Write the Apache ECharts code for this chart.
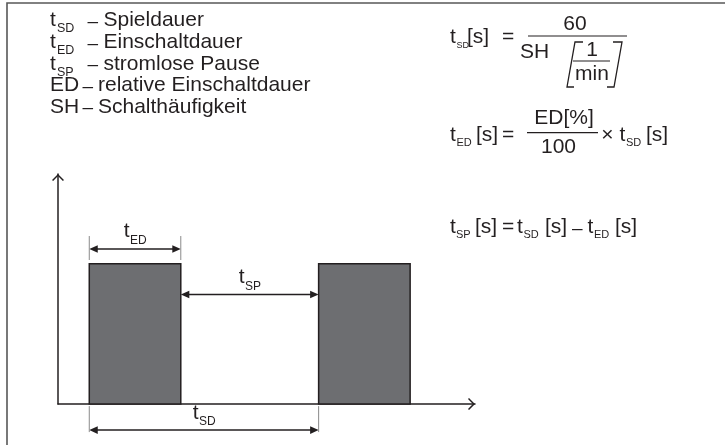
<!DOCTYPE html>
<html><head><meta charset="utf-8">
<script src="https://cdn.jsdelivr.net/npm/echarts@6/dist/echarts.min.js"></script>
<style>html,body{margin:0;padding:0;background:#fff}#c{width:725px;height:445px}</style>
</head><body><div id="c"></div>
<script>
// ---- data ----
const pulseStarts = [1.35, 11.25];
const pulseEnds = [5.3, 15.2];
const pulseLevel = [1, 1];
const dimNames = ['ED', 'SP', 'SD'];
const dimFrom = [1.35, 5.3, 1.35];
const dimTo = [5.3, 11.25, 11.25];
const legendSymbols = ['t', 't', 't', 'ED', 'SH'];
const legendSubs = ['SD', 'ED', 'SP', '', ''];
const legendTexts = ['Spieldauer', 'Einschaltdauer', 'stromlose Pause', 'relative Einschaltdauer', 'Schalthäufigkeit'];

// ---- styling / layout ----
const FONT = '"Liberation Sans", Arial, Helvetica, sans-serif';
const INK = '#231f20';
const mctx = document.createElement('canvas').getContext('2d');
function tw(text, size) { mctx.font = size + 'px ' + FONT; return mctx.measureText(text).width; }
function txt(text, x, base, size, align) {
  return { type: 'text', x: x, y: base - 0.35 * size, silent: true, z: 10,
    style: { text: text, fontSize: size, fontFamily: FONT, fill: INK, align: align || 'left', verticalAlign: 'middle' } };
}
function seg(pts, w, color) {
  return { type: 'polyline', silent: true, z: 10, shape: { points: pts }, style: { stroke: color || INK, lineWidth: w || 1.5, fill: null } };
}

const dimLayout = {
  ED: { level: 1.105, ext: [-13, 11] },
  SP: { level: 0.781, ext: null },
  SD: { level: -0.186, ext: [-24, 2] }
};

const graphics = [];
// frame
graphics.push(seg([[7, 445], [7, 3], [725, 3]], 1.6, '#585858'));
// legend
const LB = [28, 50, 71.5, 93, 114.5];
const LS = 21;
legendSymbols.forEach(function (s, i) {
  const b = LB[i];
  graphics.push(txt(s, 50, b, LS));
  if (legendSubs[i]) {
    graphics.push(txt(legendSubs[i], 50 + tw(s, LS) + 1.2, b + 5, 12.5));
    graphics.push(txt('–', 87.5, b, 19));
    graphics.push(txt(legendTexts[i], 103.5, b, LS));
  } else {
    graphics.push(txt('–', 82.5, b, 19));
    graphics.push(txt(legendTexts[i], 98, b, LS));
  }
});
// formula 1
const FS = 21, SS = 11;
graphics.push(txt('t', 450, 45, FS), txt('SD', 456.5, 48.5, 9), txt('[s]', 467, 45, FS), txt('=', 502, 45, FS));
graphics.push(seg([[528, 36], [627, 36]], 1.2));
graphics.push(txt('60', 575, 32, FS, 'center'), txt('SH', 520, 60, FS));
graphics.push(seg([[583, 42], [575, 42], [567, 87], [574, 87]], 1.3));
graphics.push(seg([[613, 42], [622, 42], [614, 87], [607, 87]], 1.3));
graphics.push(seg([[573, 61], [610, 61]], 1.2));
graphics.push(txt('1', 592, 58, FS, 'center'), txt('min', 592, 81.5, FS, 'center'));
// formula 2
graphics.push(txt('t', 450, 143, FS), txt('ED', 456.5, 147, SS), txt('[s]', 476, 143, FS), txt('=', 502, 143, FS));
graphics.push(seg([[527, 132.7], [598, 132.7]], 1.2));
graphics.push(txt('ED[%]', 564, 126, FS, 'center'), txt('100', 558.5, 155, FS, 'center'));
graphics.push(txt('×', 607.5, 142.5, FS, 'center'), txt('t', 619.5, 143, FS), txt('SD', 626, 147, SS), txt('[s]', 646, 143, FS));
// formula 3
graphics.push(txt('t', 450, 235, FS), txt('SP', 456, 239, SS), txt('[s]', 475, 235, FS), txt('=', 502, 235, FS));
graphics.push(txt('t', 517, 235, FS), txt('SD', 523.5, 239, SS), txt('[s]', 545, 235, FS), txt('–', 572, 235, 19));
graphics.push(txt('t', 587.5, 235, FS), txt('ED', 594, 239, SS), txt('[s]', 615, 235, FS));

const CHEV = 'path://M0,6 L6,0 L12,6 L10.9,7 L6,2.1 L1.1,7 Z';
function axisBase(min, max) {
  return {
    type: 'value', min: min, max: max,
    axisLine: { show: true, onZero: true, symbol: ['none', CHEV], symbolSize: [12, 7], symbolOffset: [0, -3.5],
      lineStyle: { color: INK, width: 1.5 } },
    axisTick: { show: false }, axisLabel: { show: false }, splitLine: { show: false }
  };
}

const option = {
  animation: false,
  backgroundColor: '#fff',
  grid: { left: 58, top: 174, width: 417, height: 230 },
  xAxis: axisBase(0, 18),
  yAxis: axisBase(0, 1.64),
  graphic: graphics,
  series: [
    {
      type: 'custom', clip: false, z: 3,
      encode: { x: [0, 1], y: 2 },
      data: pulseStarts.map(function (s, i) { return [s, pulseEnds[i], pulseLevel[i]]; }),
      renderItem: function (params, api) {
        const p0 = api.coord([api.value(0), api.value(2)]);
        const p1 = api.coord([api.value(1), 0]);
        return { type: 'rect', shape: { x: p0[0], y: p0[1], width: p1[0] - p0[0], height: p1[1] - p0[1] },
          style: { fill: '#6d6e71', stroke: INK, lineWidth: 1.5 } };
      }
    },
    {
      type: 'custom', clip: false, z: 4,
      encode: { x: [0, 1] },
      data: dimNames.map(function (n, i) { return [dimFrom[i], dimTo[i]]; }),
      renderItem: function (params, api) {
        const name = dimNames[params.dataIndex];
        const L = dimLayout[name];
        const p1 = api.coord([api.value(0), L.level]);
        const p2 = api.coord([api.value(1), L.level]);
        const y = p1[1], x1 = p1[0], x2 = p2[0];
        const ah = 8.5, aw = 3.8;
        const ch = [
          { type: 'line', shape: { x1: x1 + ah - 1, y1: y, x2: x2 - ah + 1, y2: y }, style: { stroke: INK, lineWidth: 1.5 } },
          { type: 'polygon', shape: { points: [[x1, y], [x1 + ah, y - aw], [x1 + ah, y + aw]] }, style: { fill: INK } },
          { type: 'polygon', shape: { points: [[x2, y], [x2 - ah, y - aw], [x2 - ah, y + aw]] }, style: { fill: INK } }
        ];
        if (L.ext) {
          [x1, x2].forEach(function (x) {
            ch.push({ type: 'line', shape: { x1: x, y1: y + L.ext[0], x2: x, y2: y + L.ext[1] }, style: { stroke: '#8a8a8a', lineWidth: 1 } });
          });
        }
        const ms = 21, ss = 12;
        const w = tw('t', ms) + tw(name, ss);
        const lx = (x1 + x2) / 2 - w / 2;
        const base = y - 10;
        ch.push({ type: 'text', x: lx, y: base - 0.35 * ms, style: { text: 't', fontSize: ms, fontFamily: FONT, fill: INK, verticalAlign: 'middle' } });
        ch.push({ type: 'text', x: lx + tw('t', ms) + 0.5, y: base + 6 - 0.35 * ss, style: { text: name, fontSize: ss, fontFamily: FONT, fill: INK, verticalAlign: 'middle' } });
        return { type: 'group', children: ch };
      }
    }
  ]
};
const chart = echarts.init(document.getElementById('c'), null, { renderer: 'canvas' });
chart.setOption(option);
</script>
</body></html>
